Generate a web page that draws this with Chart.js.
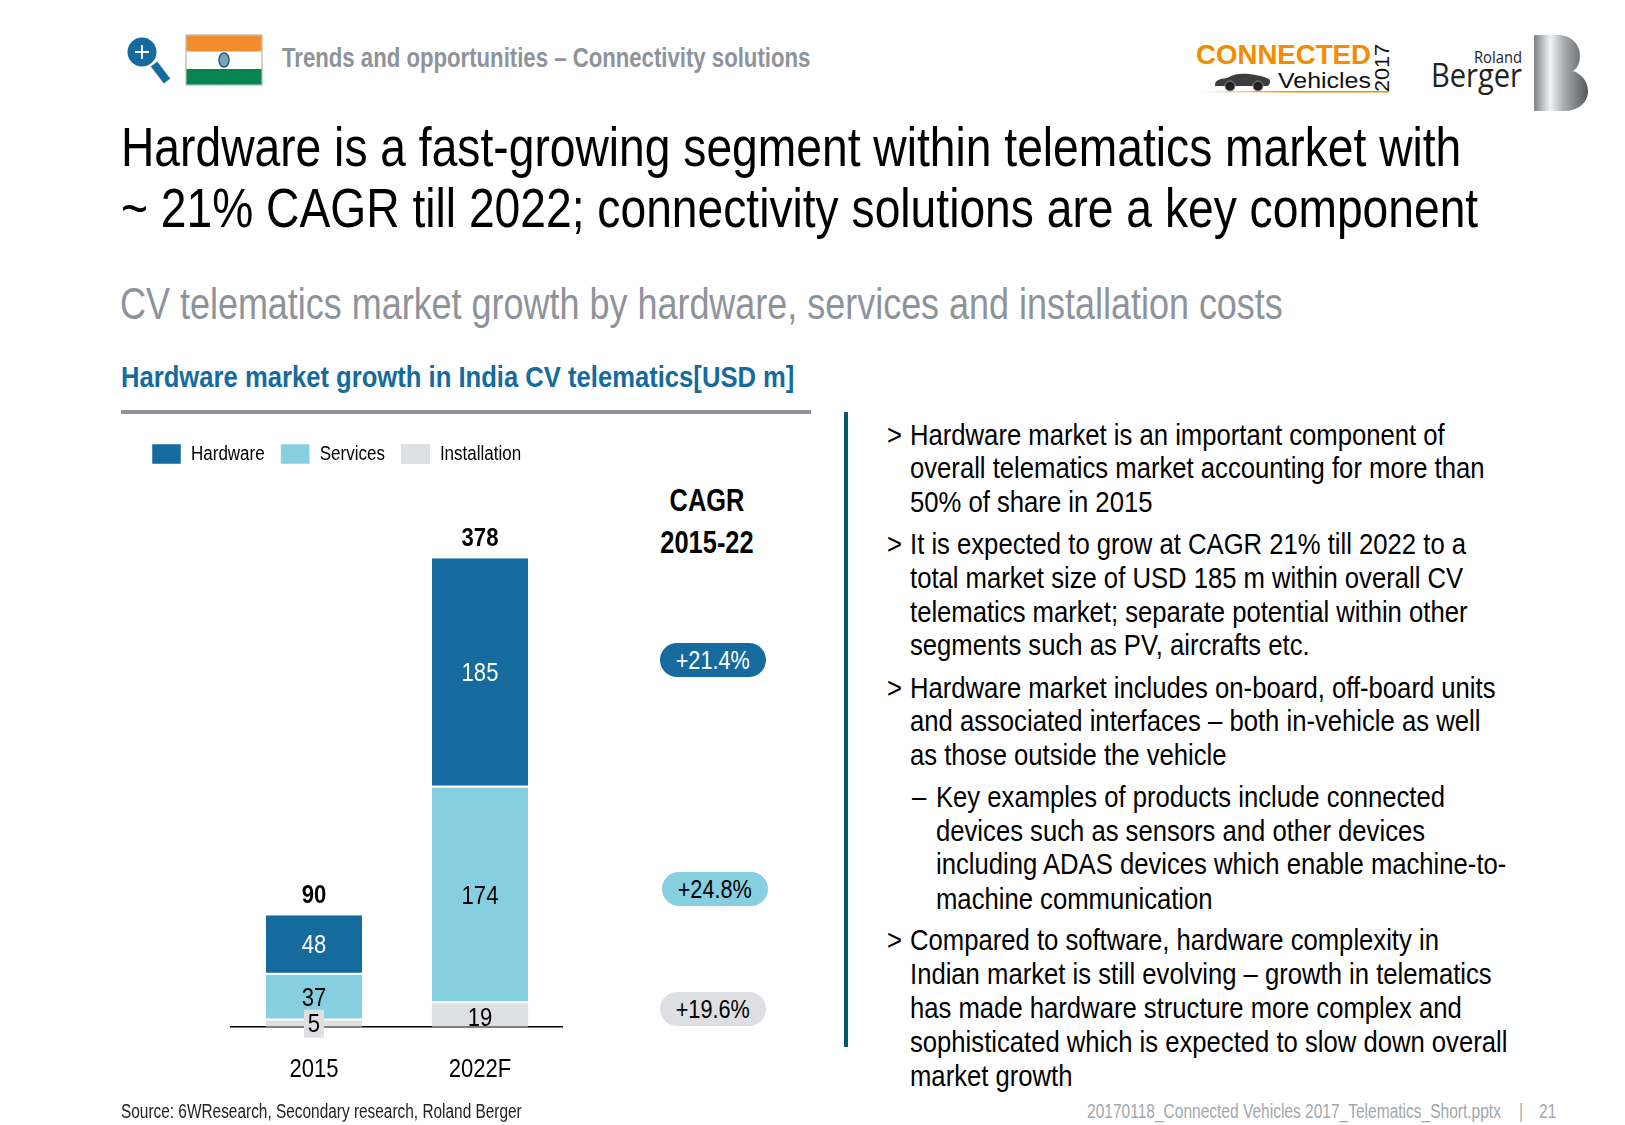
<!DOCTYPE html>
<html>
<head>
<meta charset="utf-8">
<title>CV telematics market growth</title>
<script src="https://cdn.jsdelivr.net/npm/chart.js@4"></script>
<style>
html, body { margin: 0; padding: 0; background: #fff; }
body { width: 1625px; height: 1125px; position: relative; overflow: hidden; font-family: "Liberation Sans", sans-serif; color: #000; }
/* no narrow font installed, so the text is squeezed sideways */
.t { position: absolute; white-space: nowrap; transform-origin: left center; line-height: 1.15; }
.head { font-size: 27px; font-weight: bold; color: #8e939b; transform: translateY(-50%) scaleX(.821); }
.title { font-size: 55px; transform: translateY(-50%) scaleX(.84); }
.sub { font-size: 44px; color: #8e939b; transform: translateY(-50%) scaleX(.817); }
.sec { font-size: 30px; font-weight: bold; color: #156b9e; transform: translateY(-50%) scaleX(.854); }
.bul { font-size: 30px; transform: translateY(-50%) scaleX(.855); }
.cagr { font-size: 31px; font-weight: bold; text-align: center; width: 140px; transform-origin: center; transform: translateY(-50%) scaleX(.82); }
.src { font-size: 19.5px; color: #222; transform: translateY(-50%) scaleX(.79); }
.foot { font-size: 19.5px; color: #a3a7ad; transform: translateY(-50%) scaleX(.796); }
.pill { position: absolute; width: 106px; height: 34px; border-radius: 17px; font-size: 25px; line-height: 34px; text-align: center; }
.pill span { display: inline-block; transform: scaleX(.867); }
#rule { position: absolute; left: 121px; top: 410px; width: 690px; height: 4px; background: #8e939b; }
#vrule { position: absolute; left: 844px; top: 412px; width: 4px; height: 635px; background: #00586b; }
#chartBox { position: absolute; left: 136px; top: 428px; width: 427px; height: 684px; }
#art { position: absolute; left: 0; top: 0; }
</style>
</head>
<body>
<svg id="art" width="1625" height="1125">
  <defs>
    <linearGradient id="bGrad" x1="0" x2="1" y1="0" y2="0">
      <stop offset="0" stop-color="#7b8185"/><stop offset="0.3" stop-color="#f2f3f4"/>
      <stop offset="0.55" stop-color="#a9adb0"/><stop offset="1" stop-color="#54595c"/>
    </linearGradient>
    <linearGradient id="lineGrad" x1="0" x2="1" y1="0" y2="0">
      <stop offset="0" stop-color="#f28c00" stop-opacity="0"/><stop offset="0.5" stop-color="#f28c00"/>
    </linearGradient>
  </defs>
  <!-- magnifier -->
  <line x1="154" y1="64" x2="167" y2="81" stroke="#156b9e" stroke-width="8"/>
  <circle cx="142" cy="52" r="14.5" fill="#156b9e"/>
  <path d="M142 45v14M135 52h14" stroke="#fff" stroke-width="1.8"/>
  <!-- flag -->
  <rect x="186" y="35" width="76" height="50" fill="#fff" stroke="#a5a5a5"/>
  <rect x="186.5" y="35.5" width="75" height="16" fill="#f28c2e"/>
  <rect x="186.5" y="69" width="75" height="15.5" fill="#058550"/>
  <ellipse cx="224" cy="60" rx="5" ry="7" fill="#7fa5b5" stroke="#1c5f86" stroke-width="1.5"/>
  <!-- connected vehicles logo -->
  <text x="1196" y="64" font-family="Liberation Sans" font-weight="bold" font-size="28" fill="#f28c00" textLength="175" lengthAdjust="spacingAndGlyphs">CONNECTED</text>
  <text x="1278" y="88" font-family="Liberation Sans" font-size="22" fill="#111" textLength="93" lengthAdjust="spacingAndGlyphs">Vehicles</text>
  <text transform="translate(1389,92) rotate(-90)" font-family="Liberation Sans" font-size="21" fill="#111" textLength="48" lengthAdjust="spacingAndGlyphs">2017</text>
  <rect x="1200" y="91" width="189" height="1.5" fill="url(#lineGrad)"/>
  <path d="M1215 85c0-5 5-6 12-7c6-4 14-5 22-4c7 1 14 2 20 5c2 2 1 5-1 7h-52c-1 0-1 0-1-1z" fill="#3b3d40"/>
  <circle cx="1230" cy="86" r="5" fill="#222" stroke="#888"/><circle cx="1258" cy="86" r="5" fill="#222" stroke="#888"/>
  <!-- roland berger logo -->
  <text x="1522" y="63" text-anchor="end" font-family="Open Sans" font-size="17" fill="#222" textLength="48" lengthAdjust="spacingAndGlyphs">Roland</text>
  <text x="1522" y="87" text-anchor="end" font-family="Open Sans" font-size="33" fill="#222" textLength="91" lengthAdjust="spacingAndGlyphs">Berger</text>
  <path d="M1534 35h24c13 0 22 9 22 21c0 7-3 13-7 15c9 3 15 11 15 20c0 12-10 20-24 20h-30z" fill="url(#bGrad)"/>
</svg>
<div id="rule"></div>
<div id="vrule"></div>
<div id="chartBox"><canvas id="marketChart"></canvas></div>
<script>
// chart data, USD m
const years = ["2015", "2022F"];
const hardware = [48, 185];
const services = [37, 174];
const installation = [5, 19];
const totals = [90, 378];
const cagrLabels = ["+21.4%", "+24.8%", "+19.6%"];

const HARDWARE_COLOR = "#156b9e";
const SERVICES_COLOR = "#86cfe0";
const INSTALL_COLOR = "#dedfe3";

// page text, one entry per line: x, centre y, text, class
const texts = [
    [282, 59, "Trends and opportunities – Connectivity solutions", "head"],
    [121, 148, "Hardware is a fast-growing segment within telematics market with", "title"],
    [121, 209, "~ 21% CAGR till 2022; connectivity solutions are a key component", "title"],
    [120, 304, "CV telematics market growth by hardware, services and installation costs", "sub"],
    [121, 377, "Hardware market growth in India CV telematics[USD m]", "sec"],
    [887, 435, ">", "bul"], [910, 435, "Hardware market is an important component of", "bul"],
    [910, 468, "overall telematics market accounting for more than", "bul"],
    [910, 502, "50% of share in 2015", "bul"],
    [887, 544, ">", "bul"], [910, 544, "It is expected to grow at CAGR 21% till 2022 to a", "bul"],
    [910, 578, "total market size of USD 185 m within overall CV", "bul"],
    [910, 612, "telematics market; separate potential within other", "bul"],
    [910, 645, "segments such as PV, aircrafts etc.", "bul"],
    [887, 688, ">", "bul"], [910, 688, "Hardware market includes on-board, off-board units", "bul"],
    [910, 721, "and associated interfaces – both in-vehicle as well", "bul"],
    [910, 755, "as those outside the vehicle", "bul"],
    [912, 797, "–", "bul"], [936, 797, "Key examples of products include connected", "bul"],
    [936, 831, "devices such as sensors and other devices", "bul"],
    [936, 864, "including ADAS devices which enable machine-to-", "bul"],
    [936, 899, "machine communication", "bul"],
    [887, 940, ">", "bul"], [910, 940, "Compared to software, hardware complexity in", "bul"],
    [910, 974, "Indian market is still evolving – growth in telematics", "bul"],
    [910, 1008, "has made hardware structure more complex and", "bul"],
    [910, 1042, "sophisticated which is expected to slow down overall", "bul"],
    [910, 1076, "market growth", "bul"],
    [121, 1111, "Source: 6WResearch, Secondary research, Roland Berger", "src"],
    [1087, 1111, "20170118_Connected Vehicles 2017_Telematics_Short.pptx", "foot"],
    [1519, 1111, "|", "foot"],
    [1539, 1111, "21", "foot"]
];

texts.forEach(([x, y, str, cls]) => {
    const el = document.createElement("div");
    el.className = "t " + cls;
    el.style.left = x + "px";
    el.style.top = y + "px";
    el.textContent = str;
    document.body.appendChild(el);
});

// CAGR column
[["CAGR", 501], ["2015-22", 543]].forEach(([str, y]) => {
    const el = document.createElement("div");
    el.className = "t cagr";
    el.style.left = "637px";
    el.style.top = y + "px";
    el.textContent = str;
    document.body.appendChild(el);
});
const pillStyles = [
    { left: 660, top: 643, bg: HARDWARE_COLOR, fg: "#fff" },
    { left: 662, top: 872, bg: SERVICES_COLOR, fg: "#000" },
    { left: 660, top: 992, bg: INSTALL_COLOR, fg: "#000" }
];
cagrLabels.forEach((label, i) => {
    const s = pillStyles[i];
    const el = document.createElement("div");
    el.className = "pill";
    el.style.left = s.left + "px";
    el.style.top = s.top + "px";
    el.style.background = s.bg;
    el.style.color = s.fg;
    const span = document.createElement("span");
    span.textContent = label;
    el.appendChild(span);
    document.body.appendChild(el);
});

const LABEL_FONT = '"Liberation Sans", sans-serif';
const SQUEEZE = 0.85;

// same narrowing for everything the chart writes on its canvas
const canvas = document.getElementById("marketChart");
const ctx = canvas.getContext("2d");
const rawFillText = ctx.fillText.bind(ctx);
const rawMeasure = ctx.measureText.bind(ctx);
ctx.fillText = function (str, x, y) {
    ctx.save();
    ctx.translate(x, y);
    ctx.scale(SQUEEZE, 1);
    rawFillText(str, 0, 0);
    ctx.restore();
};
ctx.measureText = function (str) {
    return { width: rawMeasure(str).width * SQUEEZE };
};

// segment values inside the bars and totals on top
const barLabels = {
    id: "barLabels",
    afterDatasetsDraw(chart) {
        const c = chart.ctx;
        c.save();
        c.textAlign = "center";
        c.textBaseline = "middle";
        chart.data.datasets.forEach((ds, i) => {
            chart.getDatasetMeta(i).data.forEach((bar, j) => {
                const h = Math.abs(bar.base - bar.y);
                const y = (bar.y + bar.base) / 2 + (ds.label === "Installation" && j === 1 ? 3 : 0);
                c.font = "26px " + LABEL_FONT;
                if (h < 20) {
                    // too thin for the number: small box behind it
                    c.fillStyle = ds.backgroundColor;
                    c.fillRect(bar.x - 10, y - 14, 20, 28);
                }
                c.fillStyle = ds.label === "Hardware" ? "#fff" : "#000";
                c.fillText(ds.data[j], bar.x, y + 1);
            });
        });
        const top = chart.getDatasetMeta(chart.data.datasets.length - 1).data;
        c.font = "bold 26px " + LABEL_FONT;
        c.fillStyle = "#000";
        totals.forEach((v, j) => c.fillText(v, top[j].x, top[j].y - 19));
        c.restore();
    }
};

new Chart(canvas, {
    type: "bar",
    data: {
        labels: years,
        datasets: [
            { label: "Installation", data: installation, backgroundColor: INSTALL_COLOR },
            { label: "Services", data: services, backgroundColor: SERVICES_COLOR, borderColor: "#fff", borderWidth: { bottom: 2 }, borderSkipped: false },
            { label: "Hardware", data: hardware, backgroundColor: HARDWARE_COLOR, borderColor: "#fff", borderWidth: { bottom: 2 }, borderSkipped: false }
        ]
    },
    options: {
        responsive: true,
        maintainAspectRatio: false,
        animation: false,
        categoryPercentage: 1,
        barPercentage: 0.58,
        scales: {
            x: {
                stacked: true,
                grid: { display: false, drawTicks: false },
                border: { color: "#000", width: 1.5 },
                ticks: { color: "#000", padding: 27, font: { family: LABEL_FONT, size: 26 } }
            },
            y: {
                stacked: true,
                min: 0,
                max: 446,
                grid: { display: false, drawTicks: false },
                border: { display: false },
                ticks: { display: false },
                afterFit(scale) { scale.width = 95; } // keeps the bars clear of the legend start
            }
        },
        plugins: {
            tooltip: { enabled: false },
            legend: {
                position: "top",
                align: "start",
                labels: {
                    boxWidth: 29,
                    boxHeight: 20,
                    padding: 16,
                    color: "#000",
                    font: { family: LABEL_FONT, size: 20 },
                    sort: (a, b) => b.datasetIndex - a.datasetIndex
                }
            }
        }
    },
    plugins: [barLabels]
});
</script>
</body>
</html>
